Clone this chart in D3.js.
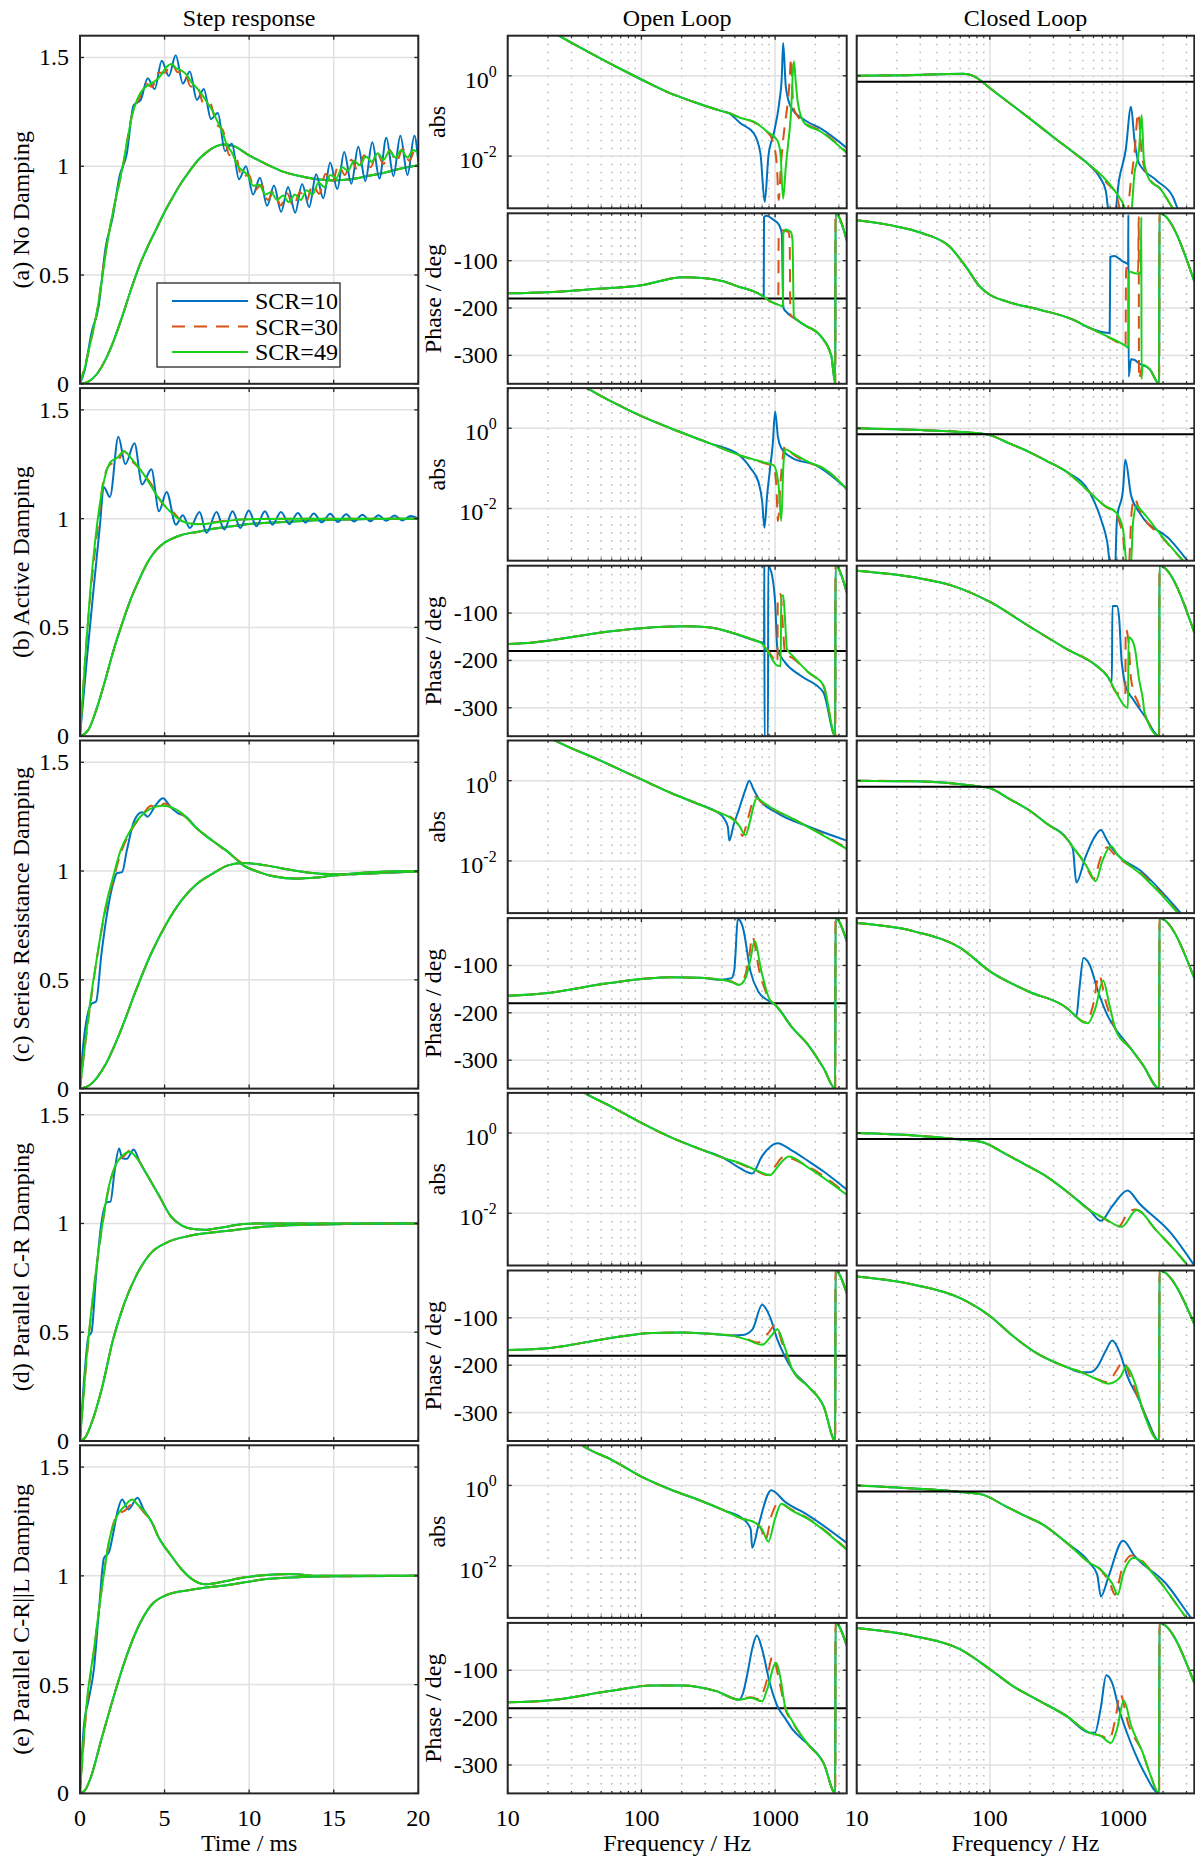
<!DOCTYPE html>
<meta charset="utf-8">
<style>
body { margin: 0; background: #fff; }
svg { display: block; }
</style>
<body>
<svg id="fig" width="1195" height="1858"></svg>
<script src="https://cdn.jsdelivr.net/npm/d3@7"></script>
<script>

// ---------- labels and ticks ----------
var seriesNames = ["SCR=10", "SCR=30", "SCR=49"];
var rowLabels = ["(a) No Damping", "(b) Active Damping", "(c) Series Resistance Damping",
                 "(d) Parallel C-R Damping", "(e) Parallel C-R||L Damping"];
var columnTitles = ["Step response", "Open Loop", "Closed Loop"];
var timeDomain = [0, 20], stepDomain = [0, 1.6];
var freqDomain = [10, 3430], absDomain = [0.0005, 10], phaseDomain = [-360, 0];
var timeTicks = [0, 5, 10, 15, 20];
var stepTicks = [0, 0.5, 1, 1.5];
var stepTickLabels = ["0", "0.5", "1", "1.5"];
var freqTicks = [10, 100, 1000];
var freqMinor = [20, 30, 40, 50, 60, 70, 80, 90, 200, 300, 400, 500, 600, 700, 800, 900, 2000, 3000];
var absTicks = [0.01, 1];
var absExp = ["-2", "0"];
var phaseTicks = [-300, -200, -100];
var refPhase = -180;   // black line, open loop phase
var refGain = 0.707;   // black line, closed loop gain

// ---------- step responses [t ms, value] ----------
var stepSlowA = [[0,0],[0.5,0.01],[1,0.045],[1.5,0.11],[2,0.2],[2.5,0.31],[3,0.43],[3.5,0.54],[4,0.63],[4.5,0.71],[5,0.79],[5.5,0.86],[6,0.925],[6.5,0.98],[7,1.03],[7.5,1.065],[8,1.09],[8.5,1.1],[9,1.095],[10,1.05],[11,1.01],[12,0.975],[13,0.955],[14,0.94],[15,0.935],[16,0.94],[17,0.955],[18,0.97],[19,0.99],[20,1.005]];
var stepA10 = [[0,0],[0.27,0.06],[0.68,0.235],[1.1,0.355],[1.51,0.625],[1.93,0.765],[2.34,0.955],[2.76,1.055],[3.17,1.28],[3.59,1.305],[4,1.405],[4.42,1.355],[4.83,1.485],[5.25,1.415],[5.66,1.51],[6.08,1.38],[6.49,1.435],[6.91,1.305],[7.32,1.355],[7.74,1.217],[8.15,1.245],[8.57,1.07],[8.98,1.103],[9.4,0.94],[9.81,1],[10.23,0.87],[10.64,0.947],[11.06,0.818],[11.47,0.912],[11.89,0.79],[12.3,0.905],[12.72,0.786],[13.13,0.918],[13.55,0.812],[13.96,0.963],[14.38,0.853],[14.79,1.017],[15.21,0.895],[15.62,1.065],[16.04,0.92],[16.45,1.089],[16.87,0.932],[17.28,1.11],[17.7,0.944],[18.11,1.131],[18.53,0.955],[18.94,1.14],[19.36,0.96],[19.77,1.14],[20,1.02]];
var stepA30 = [[0,0],[0.5,0.15],[1,0.33],[1.5,0.6],[2,0.81],[2.5,0.985],[3.12,1.25],[3.5,1.31],[3.88,1.38],[4.26,1.365],[4.64,1.43],[5.02,1.43],[5.4,1.475],[5.78,1.432],[6.16,1.438],[6.54,1.366],[6.92,1.368],[7.3,1.29],[7.68,1.29],[8.06,1.195],[8.44,1.167],[8.82,1.052],[9.2,1.045],[9.58,0.947],[9.96,0.963],[10.34,0.89],[10.72,0.915],[11.1,0.845],[11.48,0.887],[11.86,0.82],[12.24,0.876],[12.62,0.815],[13,0.882],[13.38,0.839],[13.76,0.916],[14.14,0.873],[14.52,0.966],[14.9,0.919],[15.28,1.005],[15.66,0.96],[16.04,1.03],[16.42,0.98],[16.8,1.05],[17.18,0.995],[17.56,1.065],[17.94,1.01],[18.32,1.075],[18.7,1.02],[19.08,1.08],[19.46,1.025],[19.84,1.08],[20,1.06]];
var stepA49 = [[0,0],[0.2,0.05],[0.4,0.11],[0.7,0.22],[1,0.33],[1.3,0.48],[1.6,0.64],[1.9,0.77],[2.2,0.88],[2.5,0.99],[2.8,1.12],[3.1,1.24],[3.35,1.3],[3.6,1.34],[3.9,1.365],[4.2,1.38],[4.5,1.395],[4.8,1.42],[5.1,1.455],[5.4,1.47],[5.7,1.45],[6,1.44],[6.3,1.42],[6.6,1.385],[6.9,1.36],[7.2,1.33],[7.5,1.295],[7.8,1.26],[8.1,1.21],[8.4,1.16],[8.7,1.095],[9,1.06],[9.3,1.005],[9.6,0.98],[9.9,0.96],[10.25,0.91],[10.6,0.915],[10.95,0.87],[11.3,0.88],[11.65,0.845],[12,0.865],[12.35,0.835],[12.7,0.87],[13.05,0.845],[13.4,0.89],[13.75,0.87],[14.1,0.925],[14.45,0.905],[14.8,0.96],[15.15,0.945],[15.5,0.995],[15.85,0.98],[16.2,1.025],[16.55,1.005],[16.9,1.045],[17.25,1.02],[17.6,1.06],[17.95,1.03],[18.3,1.07],[18.65,1.04],[19,1.075],[19.35,1.04],[19.7,1.075],[20,1.06]];

var stepSlowB = [[0,0],[0.5,0.03],[1,0.13],[1.5,0.26],[2,0.4],[2.5,0.52],[3,0.63],[3.5,0.72],[4,0.8],[4.5,0.855],[5,0.89],[5.5,0.91],[6,0.925],[7,0.94],[8,0.955],[9,0.965],[10,0.975],[12,0.985],[14,0.993],[17,0.998],[20,1]];
var stepB10 = [[0,0],[0.4,0.35],[0.82,0.69],[1.18,0.97],[1.4,1.145],[1.77,1.1],[2.27,1.376],[2.68,1.25],[3.22,1.346],[3.67,1.157],[4.22,1.227],[4.67,1.034],[5.12,1.123],[5.67,0.972],[6.08,1.015],[6.49,0.957],[7.07,1.03],[7.48,0.934],[8.07,1.03],[8.53,0.95],[9.02,1.034],[9.48,0.957],[9.98,1.037],[10.43,0.965],[10.93,1.034],[11.38,0.972],[11.88,1.03],[12.38,0.975],[12.88,1.026],[13.33,0.981],[13.83,1.024],[14.29,0.983],[14.79,1.022],[15.24,0.985],[15.74,1.02],[16.2,0.987],[16.7,1.018],[17.15,0.988],[17.65,1.016],[18.1,0.99],[18.6,1.014],[19.05,0.992],[19.55,1.012],[20,1]];
var stepB30 = [[0,0],[0.5,0.55],[1,0.93],[1.4,1.18],[1.8,1.25],[2.2,1.26],[2.6,1.31],[3,1.27],[3.4,1.24],[3.8,1.2],[4.2,1.16],[4.6,1.1],[5,1.06],[5.5,1.03],[6,0.99],[6.5,0.978],[7,0.975],[8,0.985],[9,0.993],[10,0.997],[12,1],[20,1]];
var stepB49 = [[0,0],[0.3,0.35],[0.6,0.66],[0.9,0.9],[1.2,1.08],[1.5,1.2],[1.8,1.26],[2.2,1.28],[2.6,1.31],[3,1.28],[3.4,1.24],[3.8,1.2],[4.2,1.15],[4.6,1.1],[5,1.06],[5.5,1.02],[6,0.99],[6.5,0.978],[7.2,0.974],[8,0.982],[9,0.992],[10.5,0.998],[13,1],[20,1]];

var stepSlowC = [[0,0],[0.6,0.018],[1.5,0.11],[2.4,0.265],[3.3,0.45],[4.2,0.62],[5.1,0.757],[6,0.865],[6.9,0.94],[7.85,0.988],[8.75,1.026],[9.66,1.037],[11,1.026],[12.4,1.006],[14.2,0.988],[16,0.985],[17.8,0.991],[20,0.998]];
var stepC10 = [[0,0],[0.14,0.157],[0.5,0.357],[0.68,0.39],[0.95,0.4],[1.27,0.62],[1.59,0.8],[1.95,0.94],[2.18,0.99],[2.49,0.995],[2.77,1.095],[3.22,1.234],[3.67,1.27],[3.99,1.25],[4.45,1.3],[4.9,1.334],[5.35,1.295],[5.8,1.265],[6.26,1.25],[6.85,1.2],[7.39,1.165],[8.07,1.126],[8.75,1.088],[9.66,1.026],[10.57,0.995],[11.47,0.975],[12.83,0.965],[14.2,0.972],[16,0.988],[17.8,0.997],[20,1]];
var stepC30 = [[0,0],[0.3,0.2],[0.6,0.38],[1,0.6],[1.5,0.82],[2,0.97],[2.4,1.08],[2.9,1.17],[3.3,1.22],[3.8,1.27],[4.2,1.3],[4.6,1.29],[5,1.31],[5.5,1.285],[6,1.262],[6.5,1.23],[7,1.19],[7.5,1.16],[8,1.13],[9,1.07],[10,1.015],[11,0.985],[12,0.97],[13,0.966],[14.5,0.974],[16,0.988],[18,0.997],[20,1]];
var stepC49 = [[0,0],[0.23,0.157],[0.59,0.39],[1.04,0.62],[1.5,0.83],[1.95,0.97],[2.4,1.095],[2.86,1.17],[3.31,1.226],[3.85,1.27],[4.44,1.295],[4.9,1.3],[5.49,1.29],[6.03,1.265],[6.85,1.2],[7.39,1.165],[8.07,1.126],[8.75,1.088],[9.66,1.026],[10.57,0.995],[11.47,0.975],[12.83,0.965],[14.2,0.972],[16,0.988],[17.8,0.997],[20,1]];

var stepSlowD = [[0,0],[0.3,0.015],[0.6,0.065],[1.27,0.234],[1.95,0.465],[2.63,0.635],[3.31,0.758],[4.22,0.866],[5.12,0.912],[6.49,0.943],[8.75,0.966],[11,0.986],[13.3,0.994],[15.6,0.997],[20,1]];
var stepD10 = [[0,0],[0.27,0.31],[0.5,0.48],[0.68,0.5],[0.95,0.76],[1.27,1.005],[1.59,1.097],[1.8,1.1],[2.04,1.236],[2.31,1.344],[2.5,1.3],[2.77,1.297],[3.17,1.34],[3.54,1.28],[3.99,1.22],[4.67,1.128],[5.35,1.035],[6.03,0.99],[6.71,0.974],[7.39,0.971],[8.3,0.98],[9.66,0.997],[11,1],[20,1]];
var stepD30 = [[0,0],[0.4,0.38],[0.85,0.72],[1.3,0.98],[1.75,1.18],[2.2,1.28],[2.6,1.31],[2.95,1.335],[3.3,1.31],[3.99,1.22],[4.67,1.128],[5.35,1.035],[6.03,0.99],[6.71,0.974],[7.39,0.971],[8.3,0.98],[9.66,0.997],[11,1],[20,1]];
var stepD49 = [[0,0],[0.36,0.36],[0.82,0.7],[1.27,0.97],[1.72,1.174],[2.18,1.28],[2.63,1.32],[2.95,1.33],[3.31,1.305],[3.99,1.22],[4.67,1.128],[5.35,1.035],[6.03,0.99],[6.71,0.974],[7.39,0.971],[8.3,0.98],[9.66,0.997],[11,1],[20,1]];

var stepSlowE = [[0,0],[0.3,0.015],[0.6,0.065],[1.27,0.25],[1.95,0.434],[2.63,0.604],[3.31,0.743],[4.22,0.866],[5.12,0.912],[6.49,0.935],[8.75,0.958],[11,0.985],[13.3,0.995],[15.6,0.998],[20,1]];
var stepE10 = [[0,0],[0.23,0.31],[0.5,0.427],[0.82,0.57],[1.13,0.85],[1.41,1.08],[1.72,1.11],[1.95,1.19],[2.22,1.297],[2.49,1.351],[2.86,1.305],[3.4,1.359],[3.76,1.305],[4.22,1.25],[4.67,1.174],[5.35,1.097],[6.03,1.028],[6.71,0.98],[7.39,0.961],[8.3,0.971],[9.66,0.992],[11,1.004],[12.38,1.008],[14.2,1],[20,1]];
var stepE30 = [[0,0],[0.4,0.4],[0.85,0.67],[1.3,0.95],[1.75,1.17],[2.2,1.28],[2.65,1.3],[3.1,1.33],[3.45,1.32],[3.8,1.29],[4.22,1.25],[4.67,1.174],[5.35,1.097],[6.03,1.028],[6.71,0.98],[7.39,0.961],[8.3,0.971],[9.66,0.992],[11,1.004],[12.38,1.008],[14.2,1],[20,1]];
var stepE49 = [[0,0],[0.36,0.39],[0.82,0.66],[1.27,0.93],[1.72,1.16],[2.18,1.274],[2.63,1.32],[3.08,1.351],[3.4,1.328],[3.76,1.3],[4.22,1.25],[4.67,1.174],[5.35,1.097],[6.03,1.028],[6.71,0.98],[7.39,0.961],[8.3,0.971],[9.66,0.992],[11,1.004],[12.38,1.008],[14.2,1],[20,1]];

// ---------- Bode data [Hz, value]: shared low-frequency part, then one tail per SCR ----------
// row (a)
var olAbsA = [[20,15],[24,10.2],[40,3.98],[70,1.48],[100,0.81],[160,0.38],[250,0.22],[400,0.132],[450,0.118]];
var olAbsA10 = [[550,0.066],[692,0.037],[776,0.0117],[836,0.00072],[891,0.01],[977,0.037],[1072,0.21],[1122,0.955],[1148,6.6],[1202,0.54],[1309,0.17],[1660,0.079],[2188,0.049],[3430,0.016]];
var olAbsA30 = [[560,0.088],[692,0.07],[871,0.04],[960,0.024],[1030,0.006],[1064,0.0008],[1105,0.006],[1148,0.025],[1274,0.54],[1318,2.75],[1365,0.17],[1479,0.096],[1660,0.068],[2188,0.043],[3430,0.0125]];
var olAbsA49 = [[560,0.088],[692,0.072],[871,0.041],[1035,0.025],[1096,0.0117],[1148,0.00087],[1200,0.005],[1230,0.0117],[1309,0.096],[1380,2.3],[1429,0.66],[1479,0.21],[1660,0.066],[2188,0.041],[3430,0.012]];
var olPhA = [[10,-169],[20,-166.5],[40,-161],[100,-152],[205,-135],[300,-137],[400,-143],[550,-156],[692,-165]];
var olPhA10 = [[780,-172],[822,-176],[826,-8],[860,-5],[977,-14],[1072,-25],[1122,-43],[1145,-182],[1156,-200],[1230,-210],[1380,-221],[1660,-236],[2188,-259],[2630,-301],[2820,-360],[2826,0],[3430,-57]];
var olPhA30 = [[780,-172],[922,-186],[1055,-192],[1064,-43],[1148,-36],[1260,-40],[1285,-57],[1300,-215],[1380,-220],[1479,-226],[1660,-236],[2188,-259],[2630,-301],[2820,-360],[2826,0],[3430,-57]];
var olPhA49 = [[780,-172],[922,-186],[1122,-196],[1145,-197],[1150,-43],[1202,-34],[1309,-39],[1349,-57],[1380,-217],[1479,-226],[1660,-236],[2188,-259],[2630,-301],[2820,-360],[2826,0],[3430,-57]];
var clAbsA = [[10,1],[24,1.04],[63,1.12],[75,1],[89,0.68],[100,0.5],[133,0.24],[178,0.115],[237,0.055],[316,0.026],[421,0.0126],[561,0.0059]];
var clAbsA10 = [[667,0.003],[741,0.0014],[794,0.0003],[859,0.0003],[933,0.0025],[1047,0.014],[1148,0.17],[1219,0.025],[1318,0.0066],[1778,0.0025],[2371,0.00096],[2570,0.0005],[3430,0.0002]];
var clAbsA30 = [[667,0.0035],[748,0.0022],[891,0.0011],[960,0.0004],[1000,0.0003],[1060,0.0003],[1148,0.0025],[1219,0.012],[1300,0.12],[1380,0.012],[1480,0.004],[1660,0.0022],[1884,0.0016],[2371,0.0005],[3430,0.00015]];
var clAbsA49 = [[667,0.0037],[748,0.0025],[891,0.0012],[1023,0.00054],[1080,0.0003],[1140,0.0003],[1219,0.0037],[1318,0.014],[1380,0.105],[1435,0.0079],[1585,0.0025],[1884,0.0016],[2371,0.0005],[3430,0.00015]];
var clPhA = [[10,-14.7],[17.8,-25],[31.6,-42.7],[50,-70.6],[66,-112.6],[84,-154.5],[100,-172],[133,-186],[237,-203.5],[421,-224.5],[561,-242]];
var clPhA10 = [[680,-250],[794,-253],[803,-92],[860,-90],[1000,-102],[1070,-106],[1092,-108],[1097,-3],[1102,-345],[1148,-308],[1230,-310],[1290,-315],[1585,-329],[1870,-360],[1876,0],[3430,-144]];
var clPhA30 = [[748,-259],[1000,-278],[1045,-280],[1054,-115],[1150,-118],[1300,-122],[1312,-8],[1318,-350],[1400,-322],[1585,-329],[1870,-360],[1876,0],[3430,-144]];
var clPhA49 = [[748,-259],[1047,-280],[1096,-284],[1104,-123],[1259,-127],[1360,-127],[1372,-8],[1378,-350],[1400,-320],[1585,-329],[1870,-360],[1876,0],[3430,-144]];

// row (b)
var olAbsB = [[33,13.5],[38.8,10.1],[60,4.6],[100,2],[165,1],[318,0.43],[537,0.215]];
var olAbsB10 = [[656,0.1],[750,0.046],[800,0.015],[832,0.0033],[870,0.02],[910,0.081],[960,0.4],[1000,2.6],[1050,0.6],[1112,0.32],[1349,0.18],[2009,0.12],[3430,0.031]];
var olAbsB30 = [[656,0.17],[800,0.14],[972,0.11],[1020,0.04],[1050,0.0049],[1100,0.05],[1186,0.36],[1349,0.23],[1770,0.14],[2305,0.1],[3430,0.03]];
var olAbsB49 = [[656,0.175],[800,0.145],[972,0.12],[1060,0.04],[1112,0.0049],[1150,0.1],[1190,0.3],[1349,0.24],[1770,0.145],[2305,0.1],[3430,0.031]];
var olPhB = [[10,-165.5],[15.5,-162],[29.5,-151],[57.5,-139],[100,-132],[214,-128],[316,-130],[468,-141],[708,-158]];
var olPhB10 = [[800,-162],[826,-164],[830,5],[834,-370],[884,-370],[888,5],[912,-5],[948,-20],[1000,-77],[1040,-176],[1186,-204],[1545,-232],[2291,-267],[2820,-360],[2826,0],[3430,-56]];
var olPhB30 = [[800,-164],[1000,-200],[1040,-205],[1048,-63],[1100,-60],[1150,-140],[1186,-185],[1349,-195],[1770,-225],[2305,-255],[2820,-360],[2826,0],[3430,-56]];
var olPhB49 = [[800,-165],[889,-183],[1040,-211],[1100,-212],[1110,-63],[1150,-63],[1186,-113],[1225,-176],[1349,-190],[1770,-225],[2305,-253],[2820,-360],[2826,0],[3430,-56]];
var clAbsB = [[10,1],[27,0.91],[78,0.76],[101,0.665],[140,0.42],[195,0.262],[270,0.15],[378,0.0815],[561,0.0254]];
var clAbsB10 = [[683,0.0054],[760,0.0015],[813,0.0003],[870,0.0003],[900,0.0054],[1000,0.03],[1040,0.163],[1150,0.021],[1330,0.0079],[2245,0.0017],[3430,0.0003]];
var clAbsB30 = [[730,0.0115],[880,0.007],[1000,0.002],[1050,0.0003],[1100,0.0003],[1160,0.008],[1220,0.018],[1330,0.009],[1970,0.0019],[3240,0.0003]];
var clAbsB49 = [[730,0.0117],[889,0.0079],[1000,0.003],[1080,0.0003],[1140,0.0003],[1190,0.0046],[1268,0.0117],[1330,0.01],[1970,0.002],[3240,0.0003]];
var clPhB = [[10,-10.6],[27,-24.6],[52,-42],[101,-77],[195,-127],[378,-176],[630,-211],[776,-236]];
var clPhB10 = [[813,-246],[825,-246],[832,-85],[900,-85],[935,-110],[975,-200],[1000,-225],[1040,-253],[1190,-282],[1450,-317],[1870,-360],[1876,0],[3430,-141]];
var clPhB30 = [[890,-268],[1000,-272],[1040,-275],[1048,-134],[1100,-160],[1150,-240],[1300,-290],[1450,-315],[1870,-360],[1876,0],[3430,-141]];
var clPhB49 = [[890,-268],[1080,-300],[1090,-300],[1100,-151],[1156,-155],[1230,-176],[1318,-239],[1410,-282],[1450,-310],[1870,-360],[1876,0],[3430,-141]];

// row (c)
var olAbsC = [[20,12.5],[22.9,9.8],[50,3.1],[100,1.07],[165,0.5],[275,0.25],[363,0.17]];
var olAbsC10 = [[410,0.12],[443,0.071],[454,0.032],[490,0.08],[536,0.19],[600,0.6],[640,1],[690,0.6],[748,0.37],[1040,0.155],[1770,0.072],[3430,0.032]];
var olAbsC30 = [[420,0.14],[472,0.12],[530,0.08],[570,0.042],[620,0.1],[680,0.3],[710,0.4],[780,0.3],[900,0.22],[1450,0.1],[3430,0.021]];
var olAbsC49 = [[420,0.14],[472,0.115],[540,0.075],[599,0.044],[650,0.1],[700,0.28],[730,0.37],[800,0.3],[900,0.23],[1450,0.1],[3430,0.02]];
var olPhC = [[10,-164],[20,-158],[57.5,-137],[165,-125],[275,-126],[390,-130]];
var olPhC10 = [[472,-127],[495,-110],[505,-77],[525,-2],[545,-5],[575,-21],[655,-113],[748,-155],[910,-176],[1000,-183],[1349,-232],[1770,-268],[2305,-317],[2820,-360],[2826,0],[3430,-49]];
var olPhC30 = [[472,-134],[530,-140],[590,-125],[640,-80],[675,-39],[760,-110],[900,-170],[1000,-183],[1349,-232],[1770,-268],[2305,-317],[2820,-360],[2826,0],[3430,-49]];
var olPhC49 = [[472,-135],[536,-141],[600,-127],[650,-90],[702,-49],[790,-113],[910,-172],[1000,-183],[1349,-232],[1770,-268],[2305,-317],[2820,-360],[2826,0],[3430,-49]];
var clAbsC = [[10,1],[27,0.96],[78,0.73],[101,0.64],[140,0.35],[195,0.188],[270,0.083],[378,0.036]];
var clAbsC10 = [[420,0.02],[446,0.0029],[520,0.012],[600,0.035],[682,0.059],[750,0.035],[832,0.02],[1410,0.0051],[2716,0.0005],[3430,0.0002]];
var clAbsC30 = [[430,0.02],[491,0.011],[560,0.005],[600,0.0035],[680,0.012],[760,0.022],[850,0.015],[1410,0.0045],[2600,0.0005],[3430,0.00015]];
var clAbsC49 = [[430,0.02],[491,0.0112],[560,0.0055],[622,0.0031],[700,0.01],[811,0.0235],[900,0.015],[1410,0.0042],[2580,0.0005],[3430,0.00015]];
var clPhC = [[10,-10.6],[27,-28],[60,-63],[101,-113],[195,-155],[378,-190],[430,-204]];
var clPhC10 = [[446,-208],[470,-150],[505,-84.5],[560,-98],[650,-155],[760,-204],[870,-232],[1140,-275],[1410,-310],[1870,-360],[1876,0],[3430,-127]];
var clPhC30 = [[490,-217],[530,-220],[600,-180],[660,-120],[740,-175],[880,-235],[1140,-275],[1410,-310],[1870,-360],[1876,0],[3430,-127]];
var clPhC49 = [[490,-218],[545,-222],[620,-190],[709,-132],[790,-183],[889,-239],[1140,-275],[1410,-310],[1870,-360],[1876,0],[3430,-127]];

// row (d)
var olAbsD = [[33,13],[37.8,9.9],[60,4.5],[100,1.78],[165,0.79],[279,0.39],[410,0.24]];
var olAbsD10 = [[537,0.138],[674,0.098],[800,0.27],[1040,0.56],[1349,0.36],[1770,0.2],[2305,0.11],[3430,0.039]];
var olAbsD30 = [[576,0.16],[720,0.115],[870,0.09],[1000,0.15],[1150,0.25],[1800,0.14],[3430,0.03]];
var olAbsD49 = [[576,0.166],[750,0.112],[912,0.089],[1100,0.18],[1268,0.26],[1770,0.138],[3430,0.029]];
var olPhD = [[10,-168],[20,-164],[57.5,-143],[120,-132],[200,-131],[363,-134.5],[468,-137]];
var olPhD10 = [[576,-136],[675,-125],[800,-72.5],[912,-97],[1040,-146],[1186,-182],[1349,-210],[1770,-245],[2305,-287],[2820,-360],[2826,0],[3430,-48]];
var olPhD30 = [[615,-145],[750,-152],[900,-130],[1000,-115],[1150,-160],[1349,-210],[1770,-245],[2305,-287],[2820,-360],[2826,0],[3430,-48]];
var olPhD49 = [[615,-146],[800,-157],[930,-139],[1040,-124],[1186,-164],[1349,-210],[1770,-245],[2305,-287],[2820,-360],[2826,0],[3430,-48]];
var clAbsD = [[10,1],[27,0.87],[60,0.69],[88,0.59],[132,0.3],[180,0.171],[257,0.089],[378,0.035],[561,0.012]];
var clAbsD10 = [[682,0.0065],[830,0.015],[1081,0.037],[1320,0.0178],[2290,0.0032],[3430,0.0005]];
var clAbsD30 = [[730,0.0072],[930,0.0047],[1081,0.01],[1240,0.0125],[1770,0.0038],[3000,0.00054],[3430,0.0003]];
var clAbsD49 = [[730,0.0074],[975,0.0046],[1268,0.012],[1770,0.0038],[3000,0.00054],[3430,0.0003]];
var clPhD = [[10,-12.7],[27,-30],[60,-58.5],[101,-97],[150,-139],[226,-175],[378,-204],[490,-215]];
var clPhD10 = [[560,-215],[640,-204],[740,-170],[830,-148],[950,-175],[1081,-224],[1320,-273],[1500,-310],[1870,-360],[1876,0],[3430,-113]];
var clPhD30 = [[650,-230],[760,-236],[900,-210],[1000,-192],[1150,-230],[1410,-295],[1870,-360],[1876,0],[3430,-113]];
var clPhD49 = [[650,-231],[776,-239],[960,-224],[1056,-203],[1230,-238],[1410,-295],[1870,-360],[1876,0],[3430,-113]];

// row (e)
var olAbsE = [[33,12.5],[36,10],[60,4.36],[100,1.66],[165,0.79],[275,0.42],[414,0.24],[576,0.146]];
var olAbsE10 = [[656,0.082],[674,0.028],[750,0.1],[935,0.76],[1186,0.39],[1770,0.18],[3430,0.037]];
var olAbsE30 = [[690,0.125],[790,0.08],[840,0.042],[950,0.2],[1060,0.37],[1300,0.26],[1770,0.15],[3430,0.026]];
var olAbsE49 = [[702,0.12],[800,0.08],[889,0.04],[1000,0.15],[1112,0.35],[1300,0.25],[1770,0.145],[3430,0.025]];
var olPhE = [[10,-167.6],[20,-164],[57.5,-144],[120,-132],[200,-132],[363,-144],[537,-162]];
var olPhE10 = [[576,-148],[615,-112.7],[680,-50],[730,-26.8],[800,-56],[912,-127],[1040,-176],[1186,-201],[1349,-225],[1770,-257],[2305,-296],[2820,-360],[2826,0],[3430,-48]];
var olPhE30 = [[656,-157],[760,-161],[850,-130],[960,-70],[1060,-115],[1186,-180],[1349,-210],[1770,-257],[2305,-296],[2820,-360],[2826,0],[3430,-48]];
var olPhE49 = [[656,-158],[800,-165.5],[870,-141],[1014,-84.5],[1112,-127],[1186,-176],[1349,-208],[1770,-257],[2305,-296],[2820,-360],[2826,0],[3430,-48]];
var clAbsE = [[10,1],[27,0.84],[60,0.69],[88,0.59],[132,0.3],[180,0.18],[257,0.1],[378,0.037],[561,0.0118]];
var clAbsE10 = [[640,0.006],[682,0.0017],[780,0.0055],[1000,0.042],[1230,0.017],[2100,0.0036],[3250,0.0005],[3430,0.0004]];
var clAbsE30 = [[682,0.0078],[800,0.0035],[870,0.0019],[980,0.008],[1160,0.018],[1832,0.0046],[3000,0.0005],[3430,0.0003]];
var clAbsE49 = [[682,0.0079],[830,0.0036],[912,0.0019],[1000,0.006],[1202,0.0155],[1832,0.0045],[3000,0.0005],[3430,0.0003]];
var clPhE = [[10,-11],[27,-28],[60,-56],[101,-98.6],[150,-134],[226,-162],[378,-197],[561,-232]];
var clPhE10 = [[615,-232],[680,-180],[748,-110.6],[830,-127],[935,-183],[1070,-232],[1230,-275],[1450,-317],[1870,-360],[1876,0],[3430,-127]];
var clPhE30 = [[682,-238],[790,-245],[880,-200],[950,-150],[1100,-215],[1410,-275],[1600,-320],[1870,-360],[1876,0],[3430,-127]];
var clPhE49 = [[682,-239],[811,-253.5],[900,-225],[1014,-164],[1150,-217],[1410,-275],[1600,-320],[1870,-360],[1876,0],[3430,-127]];

// table built from the arrays above
var rows = [
  {slow: stepSlowA, fast: [stepA10, stepA30, stepA49], olAbs: [olAbsA, olAbsA10, olAbsA30, olAbsA49], olPh: [olPhA, olPhA10, olPhA30, olPhA49], clAbs: [clAbsA, clAbsA10, clAbsA30, clAbsA49], clPh: [clPhA, clPhA10, clPhA30, clPhA49]},
  {slow: stepSlowB, fast: [stepB10, stepB30, stepB49], olAbs: [olAbsB, olAbsB10, olAbsB30, olAbsB49], olPh: [olPhB, olPhB10, olPhB30, olPhB49], clAbs: [clAbsB, clAbsB10, clAbsB30, clAbsB49], clPh: [clPhB, clPhB10, clPhB30, clPhB49]},
  {slow: stepSlowC, fast: [stepC10, stepC30, stepC49], olAbs: [olAbsC, olAbsC10, olAbsC30, olAbsC49], olPh: [olPhC, olPhC10, olPhC30, olPhC49], clAbs: [clAbsC, clAbsC10, clAbsC30, clAbsC49], clPh: [clPhC, clPhC10, clPhC30, clPhC49]},
  {slow: stepSlowD, fast: [stepD10, stepD30, stepD49], olAbs: [olAbsD, olAbsD10, olAbsD30, olAbsD49], olPh: [olPhD, olPhD10, olPhD30, olPhD49], clAbs: [clAbsD, clAbsD10, clAbsD30, clAbsD49], clPh: [clPhD, clPhD10, clPhD30, clPhD49]},
  {slow: stepSlowE, fast: [stepE10, stepE30, stepE49], olAbs: [olAbsE, olAbsE10, olAbsE30, olAbsE49], olPh: [olPhE, olPhE10, olPhE30, olPhE49], clAbs: [clAbsE, clAbsE10, clAbsE30, clAbsE49], clPh: [clPhE, clPhE10, clPhE30, clPhE49]}
];

// ---------- layout ----------
var colors = ["#0072BD", "#D95319", "#19D119"];
var dashes = [null, "13,9", null];
var stepL = 80, stepR = 418.3, olL = 507.7, olR = 846.7, clL = 856.7, clR = 1194.3;
var top0 = 35.7, pitch = 352.4, rowH = 348.1, absH = 172.6, phOff = 177.6, phH = 170.5;
var fs = 24;
var serif = "'Liberation Serif', 'Times New Roman', Times, serif";

var svg = d3.select("#fig").attr("font-family", serif);
var xTime = d3.scaleLinear().domain(timeDomain).range([stepL, stepR]);
var xOL = d3.scaleLog().domain(freqDomain).range([olL, olR]);
var xCL = d3.scaleLog().domain(freqDomain).range([clL, clR]);

var clipN = 0;
function gridAndClip(x, y, xGrid, xMinor, yGrid) {
  var x0 = x.range()[0], x1 = x.range()[1], yt = y.range()[1], yb = y.range()[0];
  var g = svg.append("g");
  xMinor.forEach(function (v) {
    g.append("line").attr("x1", x(v)).attr("x2", x(v)).attr("y1", yt).attr("y2", yb)
      .attr("stroke", "#b5b5b5").attr("stroke-width", 1.4).attr("stroke-dasharray", "1.6,6.4");
  });
  xGrid.forEach(function (v) {
    g.append("line").attr("x1", x(v)).attr("x2", x(v)).attr("y1", yt).attr("y2", yb)
      .attr("stroke", "#e0e0e0").attr("stroke-width", 1.5);
  });
  yGrid.forEach(function (v) {
    g.append("line").attr("x1", x0).attr("x2", x1).attr("y1", y(v)).attr("y2", y(v))
      .attr("stroke", "#e0e0e0").attr("stroke-width", 1.5);
  });
  var id = "clip" + (clipN++);
  svg.append("clipPath").attr("id", id).append("rect")
    .attr("x", x0).attr("y", yt).attr("width", x1 - x0).attr("height", yb - yt);
  return svg.append("g").attr("clip-path", "url(#" + id + ")");
}

function frame(x, y, xTicks, xMinor, yTicks) {
  var x0 = x.range()[0], x1 = x.range()[1], yt = y.range()[1], yb = y.range()[0];
  var g = svg.append("g").attr("stroke", "#262626").attr("fill", "none");
  xTicks.forEach(function (v) {
    g.append("line").attr("x1", x(v)).attr("x2", x(v)).attr("y1", yb).attr("y2", yb - 4).attr("stroke-width", 1.3);
    g.append("line").attr("x1", x(v)).attr("x2", x(v)).attr("y1", yt).attr("y2", yt + 4).attr("stroke-width", 1.3);
  });
  xMinor.forEach(function (v) {
    g.append("line").attr("x1", x(v)).attr("x2", x(v)).attr("y1", yb).attr("y2", yb - 2.5).attr("stroke-width", 1.1);
    g.append("line").attr("x1", x(v)).attr("x2", x(v)).attr("y1", yt).attr("y2", yt + 2.5).attr("stroke-width", 1.1);
  });
  yTicks.forEach(function (v) {
    g.append("line").attr("x1", x0).attr("x2", x0 + 4).attr("y1", y(v)).attr("y2", y(v)).attr("stroke-width", 1.3);
    g.append("line").attr("x1", x1).attr("x2", x1 - 4).attr("y1", y(v)).attr("y2", y(v)).attr("stroke-width", 1.3);
  });
  g.append("rect").attr("x", x0).attr("y", yt).attr("width", x1 - x0).attr("height", yb - yt)
    .attr("stroke-width", 2);
}

function curve(plot, x, y, data, i) {
  var line = d3.line().x(function (d) { return x(d[0]); }).y(function (d) { return y(d[1]); })
    .curve(d3.curveMonotoneX);
  plot.append("path").datum(data).attr("d", line)
    .attr("fill", "none").attr("stroke", colors[i]).attr("stroke-width", 2)
    .attr("stroke-linejoin", "round").attr("stroke-dasharray", dashes[i]);
}

function refLine(plot, x, y, v) {
  plot.append("line").attr("x1", x.range()[0]).attr("x2", x.range()[1])
    .attr("y1", y(v)).attr("y2", y(v)).attr("stroke", "#000").attr("stroke-width", 2);
}

function text(str, x, y, anchor, size) {
  return svg.append("text").attr("x", x).attr("y", y).attr("text-anchor", anchor || "middle")
    .attr("font-family", serif).attr("font-size", size || fs).attr("fill", "#000").text(str);
}

function bode(x, yA, yP, sets, showYLabels) {
  // magnitude
  var p = gridAndClip(x, yA, freqTicks, freqMinor, absTicks);
  for (var i = 0; i < 3; i++) curve(p, x, yA, sets.abs[0].concat(sets.abs[i + 1]), i);
  if (sets.gainRef) refLine(p, x, yA, refGain);
  frame(x, yA, freqTicks, freqMinor, absTicks);
  // phase
  var q = gridAndClip(x, yP, freqTicks, freqMinor, phaseTicks);
  if (sets.phaseRef) refLine(q, x, yP, refPhase);
  for (var j = 0; j < 3; j++) curve(q, x, yP, sets.ph[0].concat(sets.ph[j + 1]), j);
  frame(x, yP, freqTicks, freqMinor, phaseTicks);
  if (showYLabels) {
    absTicks.forEach(function (v, k) {
      var t = text("10", olL - 11, yA(v) + 12, "end");
      t.append("tspan").attr("dy", -11).attr("font-size", 16).text(absExp[k]);
    });
    phaseTicks.forEach(function (v) {
      text(String(v), olL - 10, yP(v) + 8, "end");
    });
    var ca = (yA.range()[0] + yA.range()[1]) / 2, cp = (yP.range()[0] + yP.range()[1]) / 2;
    text("abs", 0, 0).attr("transform", "translate(445," + ca + ") rotate(-90)");
    text("Phase / deg", 0, 0).attr("transform", "translate(441," + cp + ") rotate(-90)");
  }
}

rows.forEach(function (r, k) {
  var top = top0 + k * pitch;
  var last = k === rows.length - 1;

  // step response
  var yStep = d3.scaleLinear().domain(stepDomain).range([top + rowH, top]);
  var p = gridAndClip(xTime, yStep, [5, 10, 15], [], [0.5, 1, 1.5]);
  for (var i = 0; i < 3; i++) curve(p, xTime, yStep, r.slow, i);
  for (var j = 0; j < 3; j++) curve(p, xTime, yStep, r.fast[j], j);
  frame(xTime, yStep, timeTicks, [], stepTicks);
  stepTicks.forEach(function (v, n) { text(stepTickLabels[n], 69, yStep(v) + 8, "end"); });
  text(rowLabels[k], 0, 0).attr("transform", "translate(29," + (top + rowH / 2) + ") rotate(-90)");

  var yAbs = d3.scaleLog().domain(absDomain).range([top + absH, top]);
  var yPh = d3.scaleLinear().domain(phaseDomain).range([top + phOff + phH, top + phOff]);
  bode(xOL, yAbs, yPh, {abs: r.olAbs, ph: r.olPh, phaseRef: true}, true);
  bode(xCL, yAbs, yPh, {abs: r.clAbs, ph: r.clPh, gainRef: true}, false);

  if (last) {
    var yb = top + rowH + 33;
    timeTicks.forEach(function (v) { text(String(v), xTime(v), yb); });
    freqTicks.forEach(function (v) { text(String(v), xOL(v), yb); text(String(v), xCL(v), yb); });
    text("Time / ms", (stepL + stepR) / 2, 1851);
    text("Frequency / Hz", (olL + olR) / 2, 1851);
    text("Frequency / Hz", (clL + clR) / 2, 1851);
  }
});

// column titles
text(columnTitles[0], (stepL + stepR) / 2, 26);
text(columnTitles[1], (olL + olR) / 2, 26);
text(columnTitles[2], (clL + clR) / 2, 26);

// legend in panel (a)
var lg = svg.append("g");
lg.append("rect").attr("x", 157).attr("y", 283).attr("width", 183).attr("height", 84)
  .attr("fill", "#fff").attr("stroke", "#262626").attr("stroke-width", 1.3);
seriesNames.forEach(function (s, i) {
  var y = 301 + i * 25.5;
  lg.append("line").attr("x1", 172).attr("x2", 248).attr("y1", y).attr("y2", y)
    .attr("stroke", colors[i]).attr("stroke-width", 2).attr("stroke-dasharray", dashes[i]);
  text(s, 255, y + 8, "start");
});
</script>
</body>
